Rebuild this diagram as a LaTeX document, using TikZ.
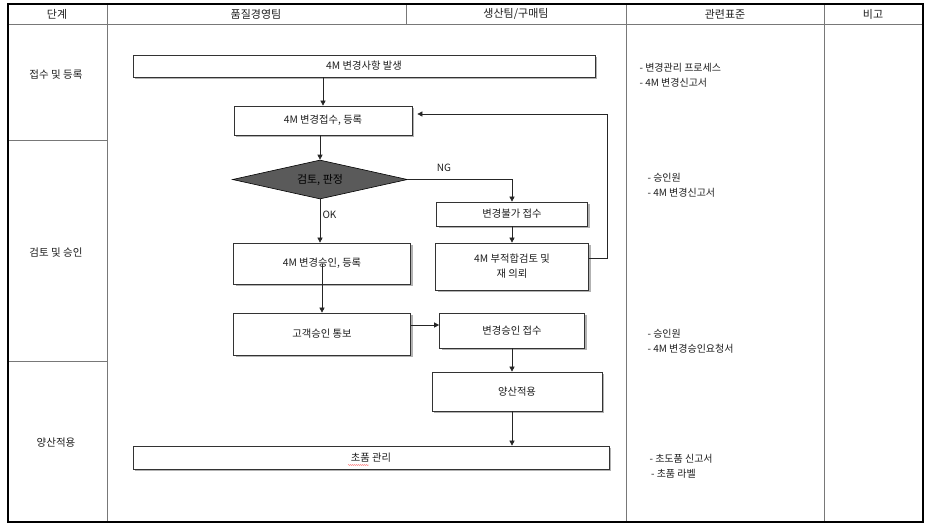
\documentclass[tikz,border=0pt]{standalone}
\usepackage{fontspec}
\setmainfont{Noto Sans CJK KR}
\usetikzlibrary{shapes.geometric}
\usetikzlibrary{positioning}
\usetikzlibrary{arrows.meta}
\usetikzlibrary{shadows}
\usetikzlibrary{decorations.pathmorphing}
\definecolor{ink}{RGB}{30,30,30}
\definecolor{rule}{RGB}{120,120,120}
\definecolor{judge}{RGB}{90,90,90}

\begin{document}
\begin{tikzpicture}[x=1pt, y=-1pt,
  procbox/.style={draw=black!80, fill=white, line width=0.7pt,
    inner sep=2pt, text=ink, align=center,
    font=\fontsize{10.3}{15}\selectfont,
    drop shadow={shadow xshift=2pt, shadow yshift=-2pt, fill=black!30, opacity=1}},
  judgebox/.style={diamond, aspect=4.5, draw=black, fill=judge, line width=0.6pt,
    inner sep=0pt, text=black, font=\fontsize{11}{13}\selectfont},
  headtxt/.style={text=ink, font=\fontsize{11}{13}\selectfont},
  stagetxt/.style={text=ink, font=\fontsize{10.5}{12}\selectfont},
  notetxt/.style={text=ink, anchor=west, align=left, font=\fontsize{10}{15}\selectfont},
  flowlbl/.style={text=ink, font=\fontsize{10}{12}\selectfont},
  line/.style={draw=black!85, line width=0.6pt, -{Triangle[length=5pt, width=5pt]}}
]

\useasboundingbox (0,0) rectangle (936,528);

%---------------------------------------
% Table frame
%---------------------------------------
\def\xL{8}
\def\xR{923}
\def\yT{4}
\def\yB{522}
\def\yH{24}
\def\colA{107}
\def\colB{406}
\def\colC{626}
\def\colD{824}

\draw[rule, line width=0.6pt] (\xL,\yH) -- (\xR,\yH);
\draw[rule, line width=0.6pt] (\colA,\yT) -- (\colA,\yB);
\draw[rule, line width=0.6pt] (\colB,\yT) -- (\colB,\yH);
\draw[rule, line width=0.6pt] (\colC,\yT) -- (\colC,\yB);
\draw[rule, line width=0.6pt] (\colD,\yT) -- (\colD,\yB);
\draw[rule, line width=0.6pt] (\xL,140) -- (\colA,140);
\draw[rule, line width=0.6pt] (\xL,361) -- (\colA,361);
\draw[black, line width=1.6pt] (\xL,\yT) rectangle (\xR,\yB);

% Header row
\node[headtxt] (hstage)  at (57,14)  {단계};
\node[headtxt] (hqm)     at (256,14) {품질경영팀};
\node[headtxt] (hprod)   at (516,14) {생산팀/구매팀};
\node[headtxt] (hstd)    at (725,14) {관련표준};
\node[headtxt] (hnote)   at (873,14) {비고};

% Stage column
\node[stagetxt] (sreg)   at (56,75)  {접수 및 등록};
\node[stagetxt] (srev)   at (56,253) {검토 및 승인};
\node[stagetxt] (smass)  at (56,443) {양산적용};

%---------------------------------------
% Flow
%---------------------------------------
\node[procbox, minimum width=462pt, minimum height=22pt] (occur)  at (364,66)    {4M 변경사항 발생};
\node[procbox, minimum width=178pt, minimum height=29pt] (reg)    at (323,120.5) {4M 변경접수, 등록};
\node[judgebox, minimum width=175pt, minimum height=39pt] (judge) at (320,179.5) {검토, 판정};
\node[procbox, minimum width=151pt, minimum height=24pt] (nogo)   at (512,214)   {변경불가 접수};
\node[procbox, minimum width=153pt, minimum height=47pt] (bad)    at (512,266.5) {4M 부적합검토 및\\재 의뢰};
\node[procbox, minimum width=177pt, minimum height=41pt] (appr)   at (322,263.5) {4M 변경승인, 등록};
\node[procbox, minimum width=177pt, minimum height=42pt] (notify) at (322,334)   {고객승인 통보};
\node[procbox, minimum width=145pt, minimum height=35pt] (accept) at (512,330.5) {변경승인 접수};
\node[procbox, minimum width=170pt, minimum height=39pt] (mass)   at (517,391.5) {양산적용};
\node[procbox, minimum width=476pt, minimum height=23pt] (first)  at (371,457.5) {초품 관리};

% spell-check mark under the first word
\draw[red!60, line width=0.4pt, decorate,
      decoration={snake, amplitude=0.5pt, segment length=2pt}]
  ([xshift=-23pt, yshift=-7.5pt]first.center) -- ([xshift=-2pt, yshift=-7.5pt]first.center);

\node[flowlbl] (ng) at (444,168) {NG};
\node[flowlbl, anchor=west] (ok) at (319,215) {OK};

\coordinate (fbtop) at (607,114);

\draw[line] (occur.south -| reg.north) -- (reg.north);
\draw[line] (reg.south -| judge.north) -- (judge.north);
\draw[line] (judge.east) -| (nogo.north);
\draw[line] (nogo.south) -- (nogo.south |- bad.north);
\draw[line, shorten >=5pt] ([yshift=8pt]bad.east) -| (fbtop) -- (fbtop -| reg.east);
\draw[line] (judge.south) -- (judge.south |- appr.north);
\draw[line] (appr.center) -- (notify.north);
\draw[line] ([yshift=9pt]notify.east) -- ([yshift=9pt]notify.east -| accept.west);
\draw[line] (accept.south) -- (accept.south |- mass.north);
\draw[line] (accept.south |- mass.south) -- (accept.south |- first.north);

%---------------------------------------
% Related standards
%---------------------------------------
\node[notetxt] (std1) at (636,75)  {- 변경관리 프로세스\\- 4M 변경신고서};
\node[notetxt] (std2) at (644,185) {- 승인원\\- 4M 변경신고서};
\node[notetxt] (std3) at (644,341) {- 승인원\\- 4M 변경승인요청서};
\node[notetxt] (std4) at (646,466) {- 초도품 신고서\\\hspace{1.5pt}- 초품 라벨};

\end{tikzpicture}
\end{document}
